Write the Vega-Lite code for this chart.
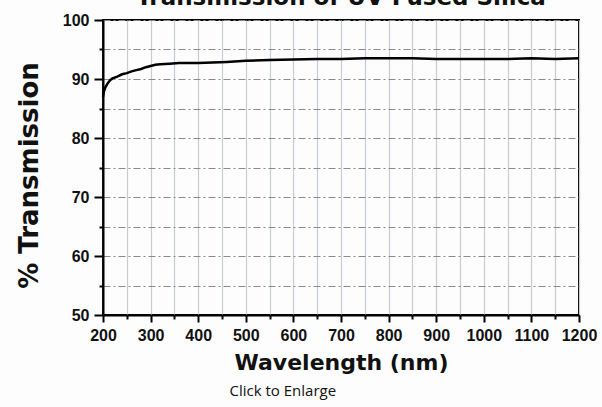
{
  "$schema": "https://vega.github.io/schema/vega-lite/v6.json",
  "autosize": "none",
  "width": 476,
  "height": 295,
  "padding": {"left": 103, "top": 20, "right": 23, "bottom": 92},
  "background": "#fdfdfd",
  "config": {
    "view": {"stroke": "#000000", "strokeWidth": 2},
    "axis": {
      "domainColor": "#000000",
      "domainWidth": 2,
      "tickColor": "#000000",
      "tickWidth": 2,
      "labelFont": "Liberation Sans",
      "labelFontWeight": "bold",
      "labelFontSize": 16,
      "labelColor": "#111111",
      "titleFont": "DejaVu Sans",
      "titleFontWeight": "bold",
      "titleColor": "#111111"
    }
  },
  "data": {
    "values": [
      {"wavelength": 200, "transmission": 87.0},
      {"wavelength": 202, "transmission": 87.9},
      {"wavelength": 205, "transmission": 88.6},
      {"wavelength": 210, "transmission": 89.3},
      {"wavelength": 215, "transmission": 89.8},
      {"wavelength": 220, "transmission": 90.1},
      {"wavelength": 230, "transmission": 90.4},
      {"wavelength": 240, "transmission": 90.8},
      {"wavelength": 250, "transmission": 91.0},
      {"wavelength": 260, "transmission": 91.3},
      {"wavelength": 270, "transmission": 91.5},
      {"wavelength": 280, "transmission": 91.7},
      {"wavelength": 290, "transmission": 92.0},
      {"wavelength": 300, "transmission": 92.2},
      {"wavelength": 310, "transmission": 92.4},
      {"wavelength": 320, "transmission": 92.5},
      {"wavelength": 340, "transmission": 92.6},
      {"wavelength": 360, "transmission": 92.7},
      {"wavelength": 400, "transmission": 92.7},
      {"wavelength": 430, "transmission": 92.8},
      {"wavelength": 460, "transmission": 92.9},
      {"wavelength": 500, "transmission": 93.1},
      {"wavelength": 550, "transmission": 93.2},
      {"wavelength": 600, "transmission": 93.3},
      {"wavelength": 650, "transmission": 93.4},
      {"wavelength": 700, "transmission": 93.4},
      {"wavelength": 750, "transmission": 93.5},
      {"wavelength": 800, "transmission": 93.5},
      {"wavelength": 850, "transmission": 93.5},
      {"wavelength": 900, "transmission": 93.4},
      {"wavelength": 950, "transmission": 93.4},
      {"wavelength": 1000, "transmission": 93.4},
      {"wavelength": 1050, "transmission": 93.4},
      {"wavelength": 1100, "transmission": 93.5},
      {"wavelength": 1150, "transmission": 93.4},
      {"wavelength": 1200, "transmission": 93.5}
    ]
  },
  "layer": [
    {
      "mark": {"type": "line", "color": "#000000", "strokeWidth": 2.5},
      "encoding": {
        "x": {
          "field": "wavelength",
          "type": "quantitative",
          "scale": {"domain": [200, 1200], "nice": false, "zero": false},
          "axis": {
            "orient": "bottom",
            "title": "Wavelength (nm)",
            "titleFontSize": 22,
            "titlePadding": 9,
            "values": [200, 250, 300, 350, 400, 450, 500, 550, 600, 650, 700, 750, 800, 850, 900, 950, 1000, 1050, 1100, 1150, 1200],
            "labelExpr": "datum.value % 100 == 0 ? datum.label : ''",
            "format": "d",
            "tickSize": {"condition": {"test": "datum.value % 100 == 0", "value": 7}, "value": 4},
            "labelPadding": 5,
            "labelOverlap": false,
            "labelFlush": false,
            "grid": true,
            "gridColor": "#c4ccd6",
            "gridWidth": 1.2
          }
        },
        "y": {
          "field": "transmission",
          "type": "quantitative",
          "scale": {"domain": [50, 100], "nice": false, "zero": false},
          "axis": {
            "title": "% Transmission",
            "titleFontSize": 26,
            "titlePadding": 20,
            "titleY": 155,
            "values": [50, 55, 60, 65, 70, 75, 80, 85, 90, 95, 100],
            "labelExpr": "datum.value % 10 == 0 ? datum.label : ''",
            "tickSize": {"condition": {"test": "datum.value % 10 == 0", "value": 9}, "value": 4},
            "labelPadding": 5,
            "labelOverlap": false,
            "labelFlush": false,
            "grid": true,
            "gridColor": "#8a8a8a",
            "gridWidth": 1.2,
            "gridDash": [7, 3, 2, 3]
          }
        }
      }
    },
    {
      "data": {"values": [{"heading": "Transmission of UV Fused Silica"}]},
      "mark": {
        "type": "text",
        "font": "DejaVu Sans",
        "fontSize": 23,
        "fontWeight": "bold",
        "color": "#111111",
        "align": "center",
        "baseline": "alphabetic"
      },
      "encoding": {
        "text": {"field": "heading", "type": "nominal"},
        "x": {"datum": 700, "type": "quantitative", "axis": null},
        "y": {
          "datum": 102.46,
          "type": "quantitative",
          "axis": {
            "title": "% Transmission",
            "titleFontSize": 26,
            "titlePadding": 20,
            "titleY": 155,
            "values": [50, 55, 60, 65, 70, 75, 80, 85, 90, 95, 100],
            "labelExpr": "datum.value % 10 == 0 ? datum.label : ''",
            "tickSize": {"condition": {"test": "datum.value % 10 == 0", "value": 9}, "value": 4},
            "labelPadding": 5,
            "labelOverlap": false,
            "labelFlush": false,
            "grid": true,
            "gridColor": "#8a8a8a",
            "gridWidth": 1.2,
            "gridDash": [7, 3, 2, 3]
          }
        }
      }
    },
    {
      "data": {"values": [{"caption": "Click to Enlarge"}]},
      "mark": {"type": "rule", "opacity": 0},
      "encoding": {
        "x": {
          "datum": 200,
          "type": "quantitative",
          "axis": {
            "orient": "bottom",
            "title": "Click to Enlarge",
            "titleFont": "Open Sans",
            "titleFontWeight": "normal",
            "titleFontSize": 15,
            "titleColor": "#111111",
            "titleAlign": "left",
            "titleBaseline": "alphabetic",
            "titleAnchor": "start",
            "titleX": 126,
            "titleY": 80,
            "domain": false,
            "ticks": false,
            "labels": false,
            "grid": false
          }
        }
      }
    }
  ],
  "resolve": {"axis": {"x": "independent"}}
}
